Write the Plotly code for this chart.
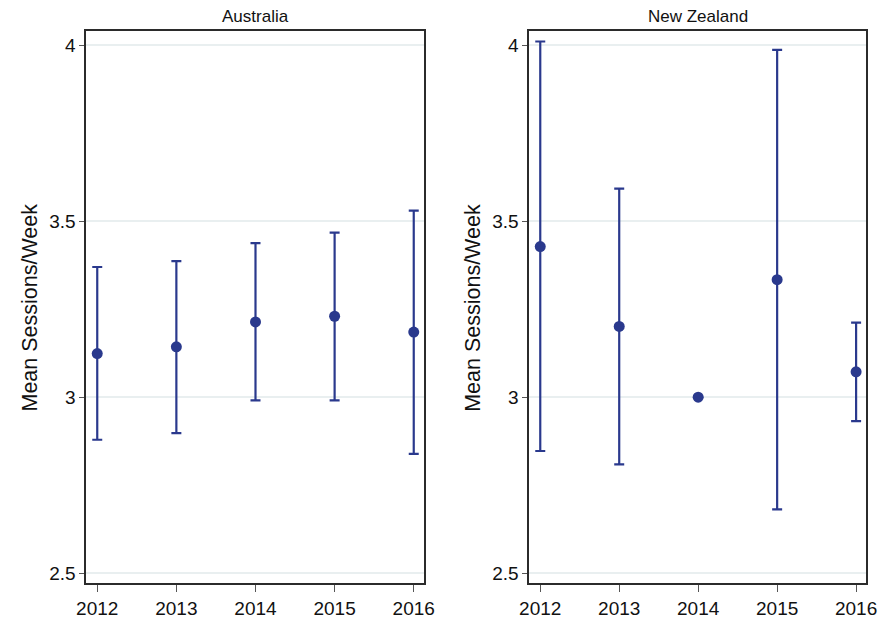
import plotly.graph_objects as go

# Survey years
years = [2012, 2013, 2014, 2015, 2016]

# Australia: mean sessions per week with 95% CI bounds
aus_mean = [3.124, 3.143, 3.214, 3.230, 3.185]
aus_lower = [2.879, 2.898, 2.991, 2.991, 2.839]
aus_upper = [3.370, 3.387, 3.438, 3.468, 3.530]

# New Zealand: mean sessions per week with 95% CI bounds (2014 has no interval)
nz_mean = [3.428, 3.201, 3.000, 3.334, 3.072]
nz_lower = [2.847, 2.809, None, 2.681, 2.932]
nz_upper = [4.011, 3.593, None, 3.987, 3.212]

panel_titles = ["Australia", "New Zealand"]
y_ticks = [2.5, 3, 3.5, 4]
y_tick_text = ["2.5", "3", "3.5", "4"]

NAVY = "#2a398d"
FONT = "Liberation Sans, Arial, sans-serif"
W, H = 893, 623


def errs(mean, lo, hi):
    plus = [(h - m) if h is not None else 0 for m, h in zip(mean, hi)]
    minus = [(m - l) if l is not None else 0 for m, l in zip(mean, lo)]
    return plus, minus


fig = go.Figure()

for i, (mean, lo, hi) in enumerate([(aus_mean, aus_lower, aus_upper),
                                     (nz_mean, nz_lower, nz_upper)]):
    plus, minus = errs(mean, lo, hi)
    sfx = "" if i == 0 else str(i + 1)
    fig.add_trace(go.Scatter(
        x=years, y=mean, mode="markers",
        xaxis="x" + sfx, yaxis="y" + sfx,
        marker=dict(color=NAVY, size=11, line=dict(width=0)),
        error_y=dict(type="data", symmetric=False, array=plus, arrayminus=minus,
                     color=NAVY, thickness=2.2, width=5),
        showlegend=False, hoverinfo="x+y",
    ))

# Panel geometry (pixels)
panels = [(78, 424), (531.7, 877)]
top_px, bot_px = 31, 584
y_dom = [1 - bot_px / H, 1 - top_px / H]

axis_common = dict(
    showline=True, mirror=True, linecolor="#2b2b2b", linewidth=1.6,
    ticks="outside", tickcolor="#555555", tickwidth=1.3,
    tickfont=dict(family=FONT, size=19, color="#111111"),
    zeroline=False,
)

layout = dict(
    width=W, height=H,
    margin=dict(l=0, r=0, t=0, b=0),
    paper_bgcolor="white", plot_bgcolor="white",
    font=dict(family=FONT, color="#111111"),
    showlegend=False,
    annotations=[],
)

for i, (x0, x1) in enumerate(panels):
    sfx = "" if i == 0 else str(i + 1)
    layout["xaxis" + sfx] = dict(
        axis_common, domain=[x0 / W, x1 / W], anchor="y" + sfx,
        range=[2011.86, 2016.13], tickvals=years,
        ticktext=[str(y) for y in years], ticklen=7, showgrid=False,
    )
    layout["yaxis" + sfx] = dict(
        axis_common, domain=y_dom, anchor="x" + sfx,
        range=[2.4716, 4.041], tickvals=y_ticks, ticktext=y_tick_text,
        ticklen=5, showgrid=True, gridcolor="#e9eff0", gridwidth=1.5,
    )
    # Panel heading
    layout["annotations"].append(dict(
        text=panel_titles[i], xref="paper", yref="paper",
        x=(x0 + x1) / 2 / W, y=1 - 17 / H, xanchor="center", yanchor="middle",
        showarrow=False, font=dict(family=FONT, size=17, color="#111111"),
    ))
    # Y-axis title
    layout["annotations"].append(dict(
        text="Mean Sessions/Week", xref="paper", yref="paper",
        x=(20 if i == 0 else 474) / W, y=1 - 308.5 / H,
        xanchor="center", yanchor="middle", textangle=-90,
        showarrow=False, font=dict(family=FONT, size=21.5, color="#111111"),
    ))

fig.update_layout(**layout)
fig.write_html("out.html")
